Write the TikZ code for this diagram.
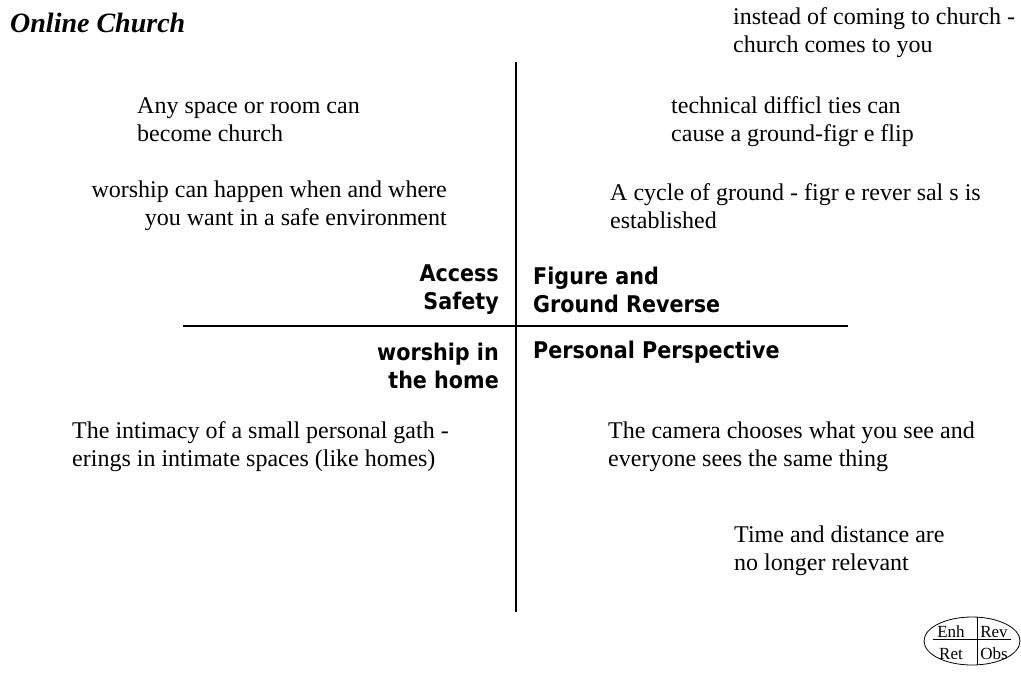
\documentclass[tikz,border=0pt]{standalone}
\usepackage{fontspec}
\setmainfont{Liberation Serif}
\newfontfamily\labelfont[FakeStretch=0.9]{DejaVu Sans}
\usepackage{tikz}
\usetikzlibrary{shapes.geometric}

\begin{document}
\begin{tikzpicture}[x=1pt, y=-1pt,
    txt/.style={inner sep=0pt, align=left, font=\fontsize{24}{28}\selectfont},
    txtr/.style={inner sep=0pt, align=right, font=\fontsize{24}{28}\selectfont},
    lbl/.style={inner sep=0pt, font=\labelfont\bfseries\fontsize{23}{28}\selectfont},
    cell/.style={inner sep=0pt, font=\fontsize{17}{17}\selectfont}]
      \useasboundingbox (0,0) rectangle (1021,673);

      \node[txt, anchor=west, font=\bfseries\itshape\fontsize{28}{30}\selectfont] (title) at (10,23) {Online Church};

      \node[txt, anchor=west] (come) at (733,33) {instead of coming to church -\\church comes to you};
      \node[txt, anchor=west] (space) at (137,120) {Any space or room can\\become church};
      \node[txt, anchor=west] (tech) at (671,122) {technical difficl ties can\\cause a ground-figr e flip};
      \node[txtr, anchor=east] (when) at (447,206) {worship can happen when and where\\you want in a safe environment};
      \node[txt, anchor=west] (cycle) at (610,206) {A cycle of ground - figr e rever sal s is\\established};

      \node[lbl, align=right, anchor=east] (access) at (499,290) {Access\\Safety};
      \node[lbl, align=left, anchor=west] (figure) at (533,290) {Figure and\\Ground Reverse};
      \node[lbl, align=right, anchor=east] (home) at (499,366) {worship in\\the home};
      \node[lbl, anchor=west] (persp) at (533,352) {Personal Perspective};

      \node[txt, anchor=west] (intim) at (72,447) {The intimacy of a small personal gath -\\erings in intimate spaces (like homes)};
      \node[txt, anchor=west] (camera) at (608,447) {The camera chooses what you see and\\everyone sees the same thing};
      \node[txt, anchor=west] (time) at (734,551) {Time and distance are\\no longer relevant};

      \coordinate (vt) at (516,62);
      \coordinate (vb) at (516,612);
      \coordinate (hl) at (183,326);
      \coordinate (hr) at (848,326);
      \draw[line width=1.5pt] (vt) -- (vb);
      \draw[line width=1.5pt] (hl) -- (hr);

      \node[draw, ellipse, line width=0.8pt, minimum width=96, minimum height=48, inner sep=0pt] (tetrad) at (972,641) {};
      \draw[line width=0.8pt] ([xshift=5]tetrad.north) -- ([xshift=5]tetrad.south);
      \draw[line width=0.8pt] ([xshift=9,yshift=2]tetrad.west) -- ([xshift=-9,yshift=2]tetrad.east);
      \node[cell] (enh) at (951,632) {Enh};
      \node[cell] (rev) at (994,632) {Rev};
      \node[cell] (ret) at (951,654) {Ret};
      \node[cell] (obs) at (994,654) {Obs};
    \end{tikzpicture}
\end{document}
